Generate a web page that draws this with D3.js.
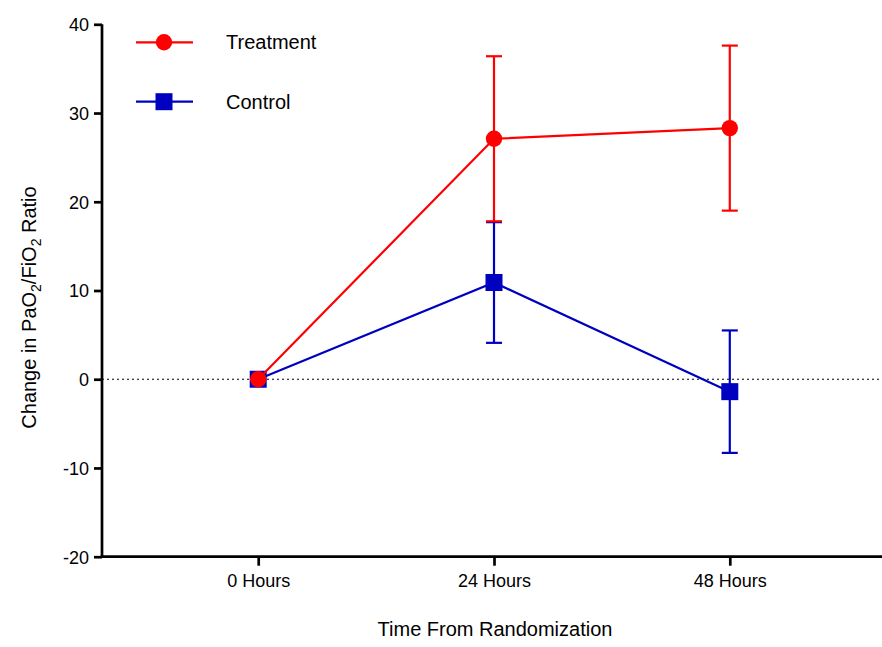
<!DOCTYPE html>
<html>
<head>
<meta charset="utf-8">
<script src="https://cdn.jsdelivr.net/npm/d3@7"></script>
<style>
  body { margin: 0; background: #fff; }
  svg text { font-family: Arial, "Liberation Sans", sans-serif; fill: #000; }
</style>
</head>
<body>
<svg id="chart" width="882" height="647"></svg>
<script>
(function () {
    // data
    var timepoints = ["0 Hours", "24 Hours", "48 Hours"];
    var treatmentMean = [0, 27.1, 28.3];
    var treatmentErr = [0, 9.3, 9.3];
    var controlMean = [0, 10.9, -1.4];
    var controlErr = [0, 6.8, 6.9];
    var yTicks = [-20, -10, 0, 10, 20, 30, 40];

    var width = 882, height = 647;
    var left = 102, top = 24.3, bottom = 556.7;

    var svg = d3.select("#chart");

    var x = d3.scalePoint()
        .domain(timepoints)
        .range([104, 884])
        .padding(0.654);

    var y = d3.scaleLinear()
        .domain([-20, 40])
        .range([bottom, top]);

    // dotted zero line
    svg.append("line")
        .attr("x1", left).attr("x2", width)
        .attr("y1", y(0)).attr("y2", y(0))
        .attr("stroke", "#000")
        .attr("stroke-width", 1.2)
        .attr("stroke-dasharray", "2,3");

    // y axis (plain hyphen for negatives, like the original)
    var yAxis = svg.append("g")
        .attr("transform", "translate(" + left + ",0)")
        .call(d3.axisLeft(y).tickValues(yTicks).tickFormat(function (d) { return String(d); })
            .tickSize(8).tickSizeOuter(0).tickPadding(5))
    yAxis.select(".domain").attr("stroke-width", 2.7).attr("d", "M0," + top + "V" + (bottom + 1.3));
    yAxis.selectAll(".tick line").attr("stroke-width", 2.7);
    yAxis.selectAll(".tick text").style("font-size", "18px").attr("dy", "0.36em");

    // x axis
    var xAxis = svg.append("g")
        .attr("transform", "translate(0," + bottom + ")")
        .call(d3.axisBottom(x).tickSize(9).tickSizeOuter(0).tickPadding(9));
    xAxis.select(".domain").attr("stroke-width", 2.7).attr("d", "M" + (left - 1.3) + ",0H" + width);
    xAxis.selectAll(".tick line").attr("stroke-width", 2.7);
    xAxis.selectAll(".tick text").style("font-size", "18px");

    // axis titles
    svg.append("text")
        .attr("x", 495).attr("y", 636)
        .attr("text-anchor", "middle")
        .style("font-size", "20px")
        .text("Time From Randomization");

    var yt = svg.append("text")
        .attr("transform", "translate(36,307.5) rotate(-90)")
        .attr("text-anchor", "middle")
        .style("font-size", "20px");
    yt.append("tspan").text("Change in PaO");
    yt.append("tspan").attr("dy", 5).style("font-size", "14px").text("2");
    yt.append("tspan").attr("dy", -5).text("/FiO");
    yt.append("tspan").attr("dy", 5).style("font-size", "14px").text("2");
    yt.append("tspan").attr("dy", -5).text(" Ratio");

    var series = [
        { name: "Treatment", mean: treatmentMean, err: treatmentErr, color: "#ff0000", shape: "circle" },
        { name: "Control", mean: controlMean, err: controlErr, color: "#0000c0", shape: "square" }
    ];

    var line = d3.line()
        .x(function (d) { return x(d.t); })
        .y(function (d) { return y(d.v); });

    // draw control first so treatment sits on top
    series.slice().reverse().forEach(function (s) {
        var pts = timepoints.map(function (t, i) { return { t: t, v: s.mean[i], e: s.err[i] }; });
        var g = svg.append("g");

        // error bars
        pts.filter(function (d) { return d.e > 0; }).forEach(function (d) {
            var cx = x(d.t);
            g.append("line")
                .attr("x1", cx).attr("x2", cx)
                .attr("y1", y(d.v - d.e)).attr("y2", y(d.v + d.e))
                .attr("stroke", s.color).attr("stroke-width", 2.2);
            [d.v - d.e, d.v + d.e].forEach(function (v) {
                g.append("line")
                    .attr("x1", cx - 8).attr("x2", cx + 8)
                    .attr("y1", y(v)).attr("y2", y(v))
                    .attr("stroke", s.color).attr("stroke-width", 2.2);
            });
        });

        g.append("path")
            .datum(pts)
            .attr("fill", "none")
            .attr("stroke", s.color)
            .attr("stroke-width", 2.2)
            .attr("d", line);

        pts.forEach(function (d) {
            if (s.shape === "circle") {
                g.append("circle").attr("cx", x(d.t)).attr("cy", y(d.v)).attr("r", 8.2).attr("fill", s.color);
            } else {
                g.append("rect").attr("x", x(d.t) - 8.5).attr("y", y(d.v) - 8.5)
                    .attr("width", 17).attr("height", 17).attr("fill", s.color);
            }
        });
    });

    // legend
    var legendY = [42.3, 101.7];
    series.forEach(function (s, i) {
        var lg = svg.append("g").attr("transform", "translate(0," + legendY[i] + ")");
        lg.append("line").attr("x1", 136).attr("x2", 193).attr("y1", 0).attr("y2", 0)
            .attr("stroke", s.color).attr("stroke-width", 2.2);
        if (s.shape === "circle") {
            lg.append("circle").attr("cx", 164).attr("cy", 0).attr("r", 8.2).attr("fill", s.color);
        } else {
            lg.append("rect").attr("x", 155.5).attr("y", -8.5).attr("width", 17).attr("height", 17).attr("fill", s.color);
        }
        lg.append("text").attr("x", 226).attr("y", 7).style("font-size", "20px").text(s.name);
    });
})();
</script>
</body>
</html>
